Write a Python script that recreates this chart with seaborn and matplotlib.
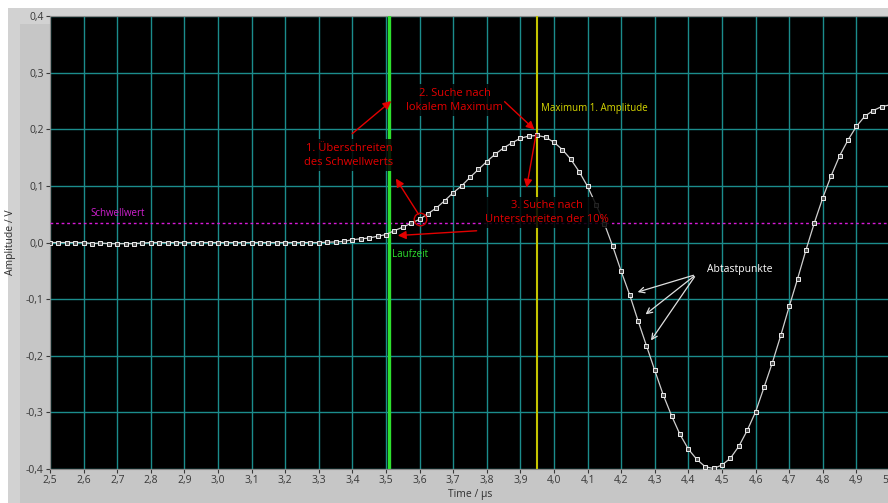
import matplotlib
matplotlib.use("Agg")
import matplotlib.pyplot as plt
import seaborn as sns
import pandas as pd
from matplotlib.patches import Rectangle
from matplotlib.ticker import FuncFormatter, MultipleLocator

# sample times (µs), 25 ns spacing
time_us = [
    2.500, 2.525, 2.550, 2.575, 2.600, 2.625, 2.650, 2.675, 2.700, 2.725,
    2.750, 2.775, 2.800, 2.825, 2.850, 2.875, 2.900, 2.925, 2.950, 2.975,
    3.000, 3.025, 3.050, 3.075, 3.100, 3.125, 3.150, 3.175, 3.200, 3.225,
    3.250, 3.275, 3.300, 3.325, 3.350, 3.375, 3.400, 3.425, 3.450, 3.475,
    3.500, 3.525, 3.550, 3.575, 3.600, 3.625, 3.650, 3.675, 3.700, 3.725,
    3.750, 3.775, 3.800, 3.825, 3.850, 3.875, 3.900, 3.925, 3.950, 3.975,
    4.000, 4.025, 4.050, 4.075, 4.100, 4.125, 4.150, 4.175, 4.200, 4.225,
    4.250, 4.275, 4.300, 4.325, 4.350, 4.375, 4.400, 4.425, 4.450, 4.475,
    4.500, 4.525, 4.550, 4.575, 4.600, 4.625, 4.650, 4.675, 4.700, 4.725,
    4.750, 4.775, 4.800, 4.825, 4.850, 4.875, 4.900, 4.925, 4.950, 4.975,
    5.000,
]
amplitude_v = [
    0.000, 0.000, 0.000, 0.000, 0.000, -0.002, -0.001, -0.002, -0.002, -0.002,
    -0.002, -0.001, 0.000, 0.000, 0.000, 0.000, 0.000, 0.000, 0.000, 0.000,
    0.000, 0.000, 0.000, 0.000, 0.000, 0.000, 0.000, 0.000, 0.000, 0.000,
    0.000, 0.000, 0.000, 0.0005, 0.001, 0.002, 0.005, 0.0065, 0.008, 0.011,
    0.014, 0.021, 0.027, 0.034, 0.041, 0.051, 0.061, 0.074, 0.088, 0.100,
    0.115, 0.129, 0.143, 0.156, 0.167, 0.176, 0.184, 0.188, 0.189, 0.186,
    0.177, 0.164, 0.147, 0.125, 0.099, 0.067, 0.033, -0.007, -0.051, -0.092,
    -0.138, -0.182, -0.226, -0.269, -0.306, -0.339, -0.365, -0.383, -0.396, -0.399,
    -0.393, -0.381, -0.360, -0.332, -0.299, -0.256, -0.212, -0.164, -0.113, -0.064,
    -0.013, 0.035, 0.079, 0.118, 0.153, 0.181, 0.205, 0.223, 0.233, 0.240,
    0.243,
]

threshold = 0.035
runtime_marker = 3.51
maximum_marker = 3.95

df = pd.DataFrame({"Time / µs": time_us, "Amplitude / V": amplitude_v})

plt.rcParams["font.family"] = ["Open Sans", "DejaVu Sans"]

fig = plt.figure(figsize=(8.88, 5.03), dpi=100, facecolor="#c6c6c6")
fig.patches.append(Rectangle((0, 1 - 24 / 503), 1, 24 / 503, transform=fig.transFigure,
                             facecolor="#d2d2d2", edgecolor="none", zorder=-2))
fig.patches.append(Rectangle((0, 0), 20 / 888, 1, transform=fig.transFigure,
                             facecolor="#d2d2d2", edgecolor="none", zorder=-2))
fig.patches.append(Rectangle((0, 1 - 8 / 503), 1, 8 / 503, transform=fig.transFigure,
                             facecolor="white", edgecolor="none", zorder=-1))
fig.patches.append(Rectangle((0, 0), 8 / 888, 1, transform=fig.transFigure,
                             facecolor="white", edgecolor="none", zorder=-1))

ax = fig.add_axes([50 / 888, 1 - 469 / 503, 840 / 888, 453 / 503])
ax.set_facecolor("black")

sns.lineplot(data=df, x="Time / µs", y="Amplitude / V", ax=ax, color="#cfcfcf",
             linewidth=0.9, marker="s", markersize=3.0, markerfacecolor="#505050",
             markeredgecolor="#f0f0f0", markeredgewidth=0.7, zorder=4)

ax.axhline(threshold, color="#d81ad8", linestyle=(0, (2, 2)), linewidth=1.0, zorder=3)
ax.axvline(runtime_marker, color="#2ee02e", linewidth=2.4, zorder=3)
ax.axvline(maximum_marker, color="#c4c400", linewidth=1.5, zorder=3)

ax.set_xlim(2.5, 5.0)
ax.set_ylim(-0.4, 0.4)
ax.xaxis.set_major_locator(MultipleLocator(0.1))
ax.yaxis.set_major_locator(MultipleLocator(0.1))
fmt = FuncFormatter(lambda v, p: f"{v:.1f}".replace(".", ",").replace("-0,0", "0,0"))
ax.xaxis.set_major_formatter(fmt)
ax.yaxis.set_major_formatter(fmt)
ax.grid(True, color="#1b8c8c", linewidth=1.0, zorder=0)
ax.set_axisbelow(True)
ax.tick_params(direction="out", length=3, width=0.8, colors="#383838",
               labelsize=7.5, pad=1.5)
for s in ax.spines.values():
    s.set_color("#8a8a8a")
ax.set_xlabel("Time / µs", fontsize=7.5, color="#303030", labelpad=2)
ax.set_ylabel("Amplitude / V", fontsize=7.5, color="#303030", labelpad=7)

box = dict(boxstyle="square,pad=0.3", facecolor="black", edgecolor="none", alpha=0.85)
red = "#e40000"
ax.text(2.619, 0.051, "Schwellwert", color="#d020d0", fontsize=7, va="center", zorder=6)
ax.text(3.518, -0.021, "Laufzeit", color="#2ee02e", fontsize=7, va="center", zorder=6)
ax.text(3.961, 0.237, "Maximum 1. Amplitude", color="#d8d800", fontsize=7,
        va="center", zorder=6)
ax.text(3.39, 0.154, "1. Überschreiten\ndes Schwellwerts", color=red, fontsize=8,
        ha="center", va="center", linespacing=1.4, bbox=box, zorder=6)
ax.text(3.705, 0.251, "2. Suche nach\nlokalem Maximum", color=red, fontsize=8,
        ha="center", va="center", linespacing=1.4, bbox=box, zorder=6)
ax.text(3.979, 0.053, "3. Suche nach\nUnterschreiten der 10%", color=red, fontsize=8,
        ha="center", va="center", linespacing=1.4, bbox=box, zorder=6)
ax.text(4.455, -0.048, "Abtastpunkte", color="white", fontsize=7.5, va="center", zorder=6)

arrow_red = dict(arrowstyle="-|>", color=red, lw=1.0, mutation_scale=12)
for start, end in [((3.393, 0.189), (3.522, 0.253)),
                   ((3.601, 0.046), (3.525, 0.117)),
                   ((3.778, 0.021), (3.527, 0.012)),
                   ((3.847, 0.252), (3.948, 0.196)),
                   ((3.948, 0.196), (3.917, 0.092))]:
    ax.annotate("", xy=end, xytext=start, arrowprops=arrow_red, zorder=7)

arrow_white = dict(arrowstyle="->", color="#e0e0e0", lw=0.9, mutation_scale=10)
for end in [(4.241, -0.089), (4.266, -0.130), (4.284, -0.177)]:
    ax.annotate("", xy=end, xytext=(4.423, -0.0565), arrowprops=arrow_white, zorder=7)

# red ring around the first sample above the threshold
ax.plot([3.601], [0.041], marker="o", markersize=9, markerfacecolor="none",
        markeredgecolor="#d00000", markeredgewidth=1.0, zorder=8)

fig.savefig("out.png", dpi=100, facecolor=fig.get_facecolor())
